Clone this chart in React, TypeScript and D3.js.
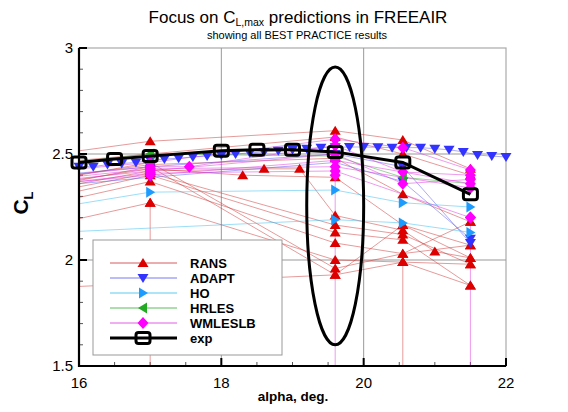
import { useEffect, useRef } from "react";
import * as d3 from "d3";

type Pt = [number, number];

// axes
const alphaTicks = [16, 18, 20, 22];
const clTicks = [1.5, 2, 2.5, 3];
const gridAlpha = [18, 20];
const gridCL = [2, 2.5];

// experiment
const expAlpha = [16, 16.5, 17, 18, 18.5, 19, 19.6, 20.55, 21.5];
const expCL = [2.46, 2.476, 2.49, 2.515, 2.52, 2.52, 2.51, 2.46, 2.31];

// dense ADAPT sweep
const adaptAlpha = [
  16, 16.2, 16.4, 16.6, 16.8, 17, 17.2, 17.4, 17.6, 17.8, 18, 18.2, 18.4, 18.6, 18.8, 19,
  19.2, 19.4, 19.6, 19.8, 20, 20.2, 20.4, 20.6, 20.8, 21, 21.2, 21.4, 21.6, 21.8, 22,
];
const adaptCL = [
  2.44, 2.44, 2.45, 2.455, 2.46, 2.47, 2.476, 2.48, 2.486, 2.49, 2.495, 2.5, 2.505, 2.51,
  2.515, 2.52, 2.525, 2.53, 2.532, 2.533, 2.533, 2.532, 2.53, 2.53, 2.53, 2.525, 2.52, 2.51,
  2.495, 2.49, 2.486,
];

// individual submissions (alpha, CL)
const ransRuns: Pt[][] = [
  [[15, 2.47], [17, 2.56], [19.6, 2.61], [20.55, 2.566], [21.5, 2.43]],
  [[15, 2.44], [17, 2.5], [19.6, 2.58], [20.55, 2.5], [21.5, 2.4]],
  [[15, 2.36], [17, 2.45], [19.6, 2.48], [20.55, 2.31], [21.5, 2.18]],
  [[15, 2.33], [17, 2.43], [18.3, 2.4], [19.6, 2.39], [20.55, 2.165], [21.5, 2.07]],
  [[15, 2.3], [17, 2.42], [18.6, 2.43], [19.1, 2.43], [19.6, 2.21], [20.55, 2.14], [21, 2.04], [21.5, 2.01]],
  [[15, 2.28], [17, 2.41], [19.6, 2.165], [20.55, 2.12], [21.5, 1.98]],
  [[15, 2.25], [17, 2.4], [19.6, 2.13], [20.55, 2.095], [21.5, 1.88]],
  [[15, 2.22], [17, 2.37], [19.6, 2.08], [20.55, 2.03], [21.5, 2.07]],
  [[15, 2.12], [17, 2.27], [19.6, 2.0], [20.55, 1.99], [21.5, 1.88]],
  [[15, 2.34], [17, 2.46], [19.6, 1.96], [20.55, 2.03], [21.5, 2.18]],
  [[15, 2.31], [17, 2.44], [19.6, 1.93], [20.55, 2.165], [21.5, 2.01]],
  [[15, 1.86], [19.6, 1.93], [20.55, 1.99], [21.5, 1.98]],
  [[17, 2.27], [17, 1.4]],
  [[20.55, 1.99], [20.55, 1.4]],
];
const adaptRuns: Pt[][] = [
  adaptAlpha.map((a, i) => [a, adaptCL[i]] as Pt),
  [[15, 2.33], [17, 2.39], [19.6, 2.46], [20.55, 2.37], [21.5, 2.1]],
  [[15, 2.38], [17, 2.44], [19.6, 2.5], [20.55, 2.44], [21.5, 2.08]],
];
const hoRuns: Pt[][] = [
  [[15, 2.21], [17, 2.32], [19.6, 2.33], [20.55, 2.27], [21.5, 2.25]],
  [[15, 2.12], [19.6, 2.19], [20.55, 2.175], [21.5, 2.13]],
];
const hrlesRuns: Pt[][] = [
  [[15, 2.43], [17, 2.5], [19.6, 2.49], [20.55, 2.39], [21.5, 2.36]],
];
const wmlesRuns: Pt[][] = [
  [[15, 2.4], [17, 2.46], [19.6, 2.57], [20.55, 2.53], [21.5, 2.425]],
  [[15, 2.37], [17, 2.44], [17.55, 2.44], [19.6, 2.54], [20.55, 2.415], [21.5, 2.4]],
  [[15, 2.35], [17, 2.42], [19.6, 2.5], [20.55, 2.36], [21.5, 2.38]],
  [[15, 2.34], [17, 2.4], [19.6, 2.47], [21.5, 2.36]],
  [[15, 2.36], [17, 2.43], [19.6, 2.44], [21.5, 2.34]],
  [[15, 2.33], [17, 2.41], [19.6, 2.42], [21.5, 2.2]],
  [[19.6, 2.4], [19.6, 1.4]],
  [[21.5, 2.2], [21.5, 1.4]],
];

// the highlighted region
const focus = { alpha: 19.6, cl: 2.255, dAlpha: 0.4, dCL: 0.655 };

const shapes: Record<string, string> = {
  up: "M0,-5L5.5,4L-5.5,4Z",
  down: "M0,5L5.5,-4L-5.5,-4Z",
  right: "M5,0L-4,-5.5L-4,5.5Z",
  left: "M-5,0L4,-5.5L4,5.5Z",
  diamond: "M0,-6L5.5,0L0,6L-5.5,0Z",
};

const series = [
  { name: "RANS", runs: ransRuns, color: "#dd0000", line: "#cc3333", shape: "up" },
  { name: "ADAPT", runs: adaptRuns, color: "#3333ff", line: "#5555ee", shape: "down" },
  { name: "HO", runs: hoRuns, color: "#1e9bff", line: "#33bbee", shape: "right" },
  { name: "HRLES", runs: hrlesRuns, color: "#22aa22", line: "#33aa33", shape: "left" },
  { name: "WMLESLB", runs: wmlesRuns, color: "#ff00ff", line: "#dd33dd", shape: "diamond" },
];

function App() {
  const svgRef = useRef<SVGSVGElement>(null);

  useEffect(() => {
    document.body.style.margin = "0";
    const width = 568;
    const height = 412;
    const m = { left: 79, right: 506, top: 48, bottom: 366 };
    const font = "'Liberation Sans', Arial, Helvetica, sans-serif";

    const svg = d3.select(svgRef.current);
    svg.selectAll("*").remove();
    svg.attr("width", width).attr("height", height).style("font-family", font);

    const x = d3.scaleLinear().domain([16, 22]).range([m.left, m.right]);
    const y = d3.scaleLinear().domain([1.5, 3]).range([m.bottom, m.top]);

    svg.append("rect").attr("width", width).attr("height", height).attr("fill", "#fff");

    svg
      .append("defs")
      .append("clipPath")
      .attr("id", "plotclip")
      .append("rect")
      .attr("x", m.left)
      .attr("y", m.top)
      .attr("width", m.right - m.left)
      .attr("height", m.bottom - m.top);

    // frame + grid
    svg
      .append("rect")
      .attr("x", m.left)
      .attr("y", m.top)
      .attr("width", m.right - m.left)
      .attr("height", m.bottom - m.top)
      .attr("fill", "none")
      .attr("stroke", "#aaa")
      .attr("stroke-width", 1.2);
    svg
      .append("g")
      .selectAll("line")
      .data(gridAlpha)
      .join("line")
      .attr("x1", (d) => x(d))
      .attr("x2", (d) => x(d))
      .attr("y1", m.top)
      .attr("y2", m.bottom)
      .attr("stroke", "#999")
      .attr("stroke-width", 1);
    svg
      .append("g")
      .selectAll("line")
      .data(gridCL)
      .join("line")
      .attr("x1", m.left)
      .attr("x2", m.right)
      .attr("y1", (d) => y(d))
      .attr("y2", (d) => y(d))
      .attr("stroke", "#999")
      .attr("stroke-width", 1);

    // minor ticks
    svg
      .append("g")
      .selectAll("line")
      .data(x.ticks(12))
      .join("line")
      .attr("x1", (d) => x(d))
      .attr("x2", (d) => x(d))
      .attr("y1", m.bottom)
      .attr("y2", (d) => m.bottom - (alphaTicks.includes(d) ? 8 : 4))
      .attr("stroke", (d) => (alphaTicks.includes(d) ? "#000" : "#555"))
      .attr("stroke-width", (d) => (alphaTicks.includes(d) ? 2 : 1));
    svg
      .append("g")
      .selectAll("line")
      .data(y.ticks(15))
      .join("line")
      .attr("y1", (d) => y(d))
      .attr("y2", (d) => y(d))
      .attr("x1", m.left)
      .attr("x2", (d) => m.left + (clTicks.includes(d) ? 8 : 4))
      .attr("stroke", (d) => (clTicks.includes(d) ? "#000" : "#555"))
      .attr("stroke-width", (d) => (clTicks.includes(d) ? 2 : 1));

    // data lines
    const line = d3
      .line<Pt>()
      .x((d) => x(d[0]))
      .y((d) => y(d[1]));
    const lines = svg.append("g").attr("clip-path", "url(#plotclip)");
    series.forEach((s) => {
      lines
        .append("g")
        .selectAll("path")
        .data(s.runs)
        .join("path")
        .attr("d", (d) => line(d))
        .attr("fill", "none")
        .attr("stroke", s.line)
        .attr("stroke-opacity", 0.7)
        .attr("stroke-width", 0.7);
    });

    // markers
    const inside = (p: Pt) => p[0] >= 16 && p[0] <= 22 && p[1] >= 1.5 && p[1] <= 3;
    series.forEach((s) => {
      svg
        .append("g")
        .selectAll("path")
        .data(s.runs.flat().filter(inside))
        .join("path")
        .attr("transform", (d) => `translate(${x(d[0])},${y(d[1])})`)
        .attr("d", shapes[s.shape])
        .attr("fill", s.color);
    });

    // axes (solid left & bottom)
    svg
      .append("line")
      .attr("x1", m.left)
      .attr("x2", m.left)
      .attr("y1", m.top)
      .attr("y2", m.bottom + 1)
      .attr("stroke", "#000")
      .attr("stroke-width", 2.2);
    svg
      .append("line")
      .attr("x1", m.left - 1)
      .attr("x2", m.right)
      .attr("y1", m.bottom)
      .attr("y2", m.bottom)
      .attr("stroke", "#000")
      .attr("stroke-width", 2.2);

    // experiment
    const expPts: Pt[] = expAlpha.map((a, i) => [a, expCL[i]]);
    svg
      .append("path")
      .attr("d", line(expPts))
      .attr("fill", "none")
      .attr("stroke", "#000")
      .attr("stroke-width", 3);
    svg
      .append("g")
      .selectAll("rect")
      .data(expPts)
      .join("rect")
      .attr("x", (d) => x(d[0]) - 7)
      .attr("y", (d) => y(d[1]) - 5.5)
      .attr("width", 14)
      .attr("height", 11)
      .attr("rx", 2.5)
      .attr("fill", "none")
      .attr("stroke", "#000")
      .attr("stroke-width", 3);

    // focus ellipse
    svg
      .append("ellipse")
      .attr("cx", x(focus.alpha))
      .attr("cy", y(focus.cl))
      .attr("rx", x(focus.alpha + focus.dAlpha) - x(focus.alpha))
      .attr("ry", y(focus.cl) - y(focus.cl + focus.dCL))
      .attr("fill", "none")
      .attr("stroke", "#000")
      .attr("stroke-width", 3);

    // legend
    const lg = svg.append("g").attr("transform", "translate(93,240)");
    lg.append("rect")
      .attr("width", 189)
      .attr("height", 115)
      .attr("fill", "#fff")
      .attr("stroke", "#999")
      .attr("stroke-width", 1);
    const rowY = (i: number) => 23 + i * 15;
    series.forEach((s, i) => {
      const g = lg.append("g").attr("transform", `translate(0,${rowY(i)})`);
      g.append("line")
        .attr("x1", 17)
        .attr("x2", 84)
        .attr("stroke", s.line)
        .attr("stroke-width", 0.8);
      g.append("path")
        .attr("transform", "translate(50,0)")
        .attr("d", shapes[s.shape])
        .attr("fill", s.color);
      g.append("text")
        .attr("x", 97)
        .attr("dy", "0.36em")
        .attr("font-size", 13)
        .attr("font-weight", "bold")
        .text(s.name);
    });
    const eg = lg.append("g").attr("transform", `translate(0,${rowY(5)})`);
    eg.append("line").attr("x1", 17).attr("x2", 84).attr("stroke", "#000").attr("stroke-width", 3);
    eg.append("rect")
      .attr("x", 43)
      .attr("y", -5.5)
      .attr("width", 14)
      .attr("height", 11)
      .attr("rx", 2.5)
      .attr("fill", "none")
      .attr("stroke", "#000")
      .attr("stroke-width", 3);
    eg.append("text")
      .attr("x", 97)
      .attr("dy", "0.36em")
      .attr("font-size", 13)
      .attr("font-weight", "bold")
      .text("exp");

    // tick labels
    svg
      .append("g")
      .selectAll("text")
      .data(alphaTicks)
      .join("text")
      .attr("x", (d) => x(d))
      .attr("y", 388)
      .attr("text-anchor", "middle")
      .attr("font-size", 15)
      .text((d) => d);
    svg
      .append("g")
      .selectAll("text")
      .data(clTicks)
      .join("text")
      .attr("x", 73)
      .attr("y", (d) => y(d) + 5)
      .attr("text-anchor", "end")
      .attr("font-size", 15)
      .text((d) => d);

    // axis titles
    svg
      .append("text")
      .attr("x", 293)
      .attr("y", 401)
      .attr("text-anchor", "middle")
      .attr("font-size", 13.5)
      .attr("font-weight", "bold")
      .text("alpha, deg.");
    const yl = svg
      .append("text")
      .attr("transform", "translate(28,203) rotate(-90)")
      .attr("text-anchor", "middle")
      .attr("font-size", 21)
      .attr("font-weight", "bold");
    yl.append("tspan").text("C");
    yl.append("tspan").attr("font-size", 13).attr("dy", 5).text("L");

    // title
    const t = svg
      .append("text")
      .attr("x", 298)
      .attr("y", 23)
      .attr("text-anchor", "middle")
      .attr("font-size", 17);
    t.append("tspan").text("Focus on C");
    t.append("tspan").attr("font-size", 10.5).attr("dy", 3).text("L,max");
    t.append("tspan").attr("dy", -3).text(" predictions in FREEAIR");
    svg
      .append("text")
      .attr("x", 297)
      .attr("y", 39)
      .attr("text-anchor", "middle")
      .attr("font-size", 11)
      .text("showing all BEST PRACTICE results");
  }, []);

  return <svg ref={svgRef} style={{ display: "block" }}></svg>;
}

export default App;
